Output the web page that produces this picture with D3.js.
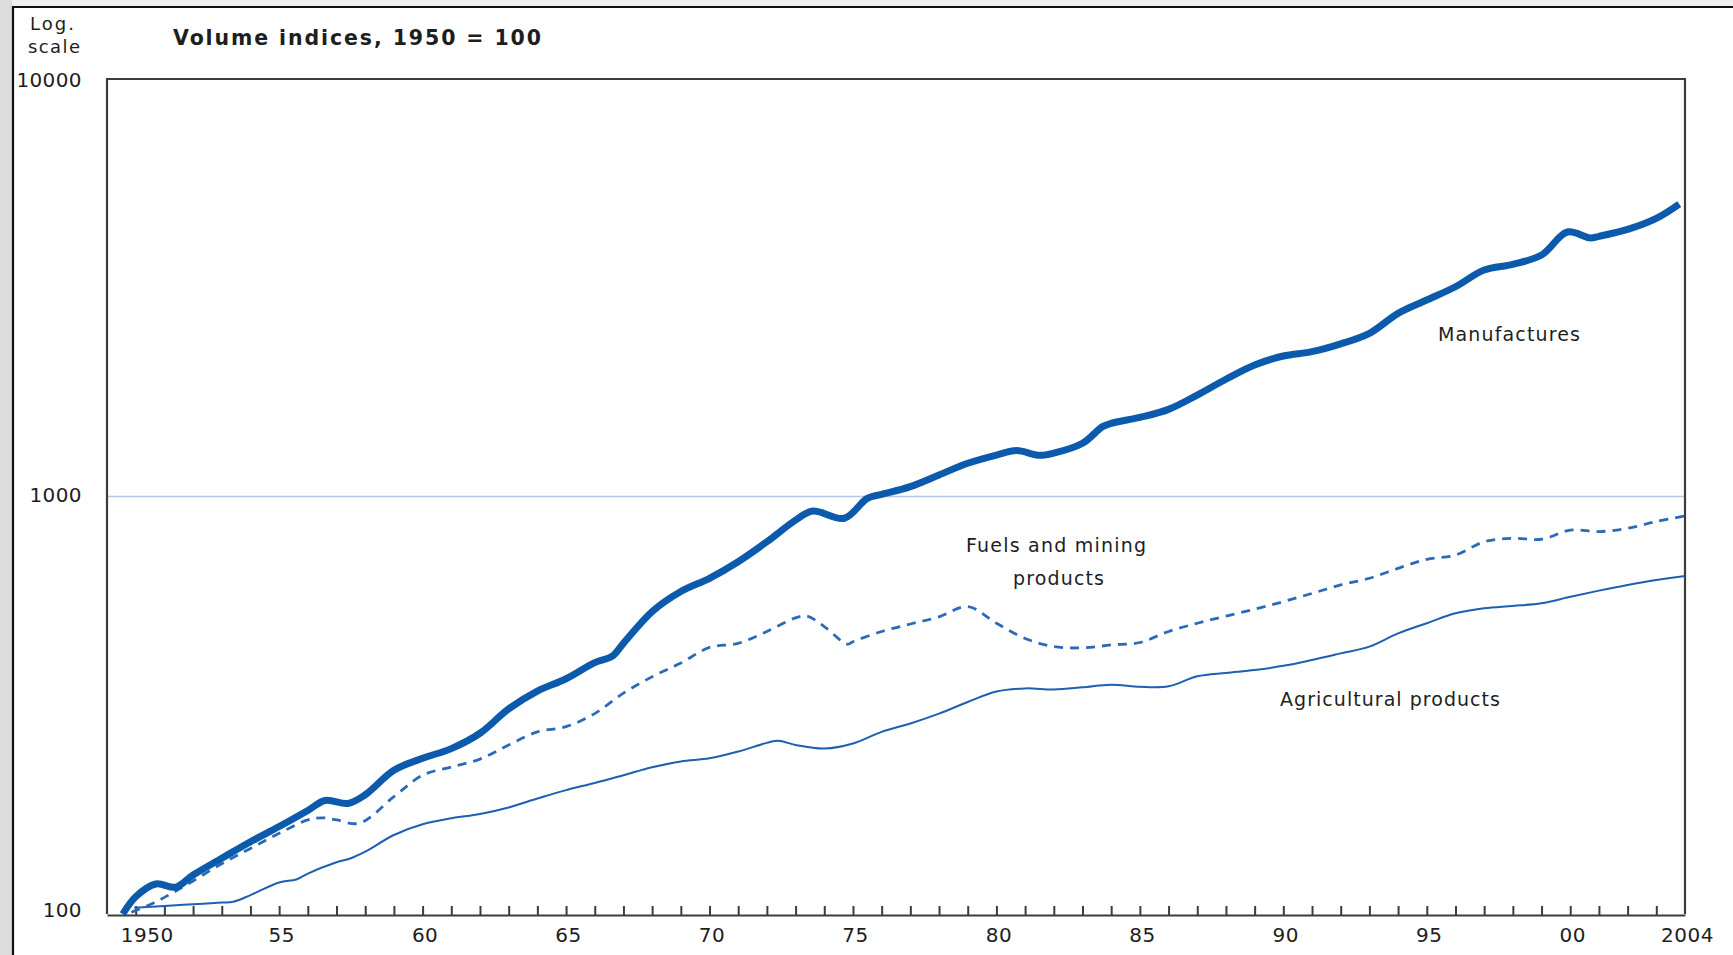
<!DOCTYPE html>
<html><head><meta charset="utf-8">
<script src="https://cdn.jsdelivr.net/npm/d3@7"></script>
<style>
html,body{margin:0;padding:0;background:#fff;}
svg{display:block;}
text{font-family:"DejaVu Sans",sans-serif;fill:#1e1e1e;}
</style></head><body>
<svg id="c" width="1733" height="955"></svg>
<script>
// ---- data ----
const tickYears = d3.range(1950, 2004);
const labelYears = [1950, 1955, 1960, 1965, 1970, 1975, 1980, 1985, 1990, 1995, 2000, 2004];
const labelTexts = ["1950", "55", "60", "65", "70", "75", "80", "85", "90", "95", "00", "2004"];
const yTicks = [100, 1000, 10000];
const yTickLabels = ["100", "1000", "10000"];

const manufYears = [1949.55,1950,1950.7,1951.4,1952,1953,1954,1955,1956,1956.6,1957.4,1958,1959,1960,1961,1962,1963,1964,1965,1966,1966.6,1967,1968,1969,1970,1971,1972,1973,1973.6,1974.7,1975.5,1976,1977,1978,1979,1980,1980.7,1981.5,1982,1983,1983.7,1984,1985,1986,1987,1988,1989,1990,1991,1992,1993,1994,1995,1996,1997,1998,1999,1999.9,2000.7,2001,2002,2003,2003.8];
const manufValues = [100,110,118,116,124,136,149,162,177,187,184,193,221,236,249,271,310,342,366,400,414,445,530,592,637,698,779,878,923,887,990,1012,1056,1126,1201,1257,1288,1255,1270,1341,1470,1497,1547,1617,1750,1909,2065,2170,2223,2320,2459,2746,2955,3180,3486,3598,3787,4300,4160,4200,4365,4638,5018];

const fuelsYears = [1949.85,1950.55,1951.25,1952,1953,1954,1955,1956,1956.5,1957,1957.8,1959,1960,1961,1962,1963,1964,1965,1966,1967,1968,1969,1970,1971,1972,1973,1973.4,1974,1974.8,1975,1976,1977,1978,1979,1980,1981,1982,1983,1984,1985,1986,1987,1988,1989,1990,1991,1992,1993,1994,1995,1996,1997,1998,1999,2000,2001,2002,2003,2004];
const fuelsValues = [101,105.7,112,120,132,143.6,156,168,170,168,165,191,215,225,235,254,273,281,302,338,370,399,435,445,475,512,517,488,443,449,475,495,515,545,497,457,437,434,441,447,475,497,517,537,560,586,614,637,673,707,724,779,794,790,831,824,839,871,898];

const agriYears = [1949.95,1951,1952,1953,1953.4,1954,1955,1955.6,1956,1957,1957.5,1958,1959,1960,1961,1962,1963,1964,1965,1966,1967,1968,1969,1970,1971,1972,1972.4,1973,1974,1975,1976,1977,1978,1979,1980,1981,1982,1983,1984,1985,1986,1987,1988,1989,1990,1991,1992,1993,1994,1995,1996,1997,1998,1999,2000,2001,2002,2003,2004];
const agriValues = [103.5,104.5,105.5,106.5,107,111,119,121,125,133,136,141,154.6,164,169.5,173.6,180,189,198,206,215,224.6,232,236,245,257,260,254,249,256,273,286,302,322,341,347,345,349,354,350,351,371,378,384,393,406,421,437,470,497,525,540,547,555,575,595,614,631,645];

// ---- layout ----
const svg = d3.select("#c");
const L = 107, R = 1685, T = 79, B = 914;
const x = d3.scaleLinear().domain([1949, 2004]).range([L, R]);
const y = d3.scaleLog().domain([100, 10000]).range([B, T]);

// page frame
svg.append("rect").attr("x",0).attr("y",0).attr("width",1733).attr("height",955).attr("fill","#fff");
svg.append("rect").attr("x",0).attr("y",0).attr("width",1733).attr("height",7).attr("fill","#efefef");
svg.append("rect").attr("x",0).attr("y",0).attr("width",12).attr("height",955).attr("fill","#dcdcdc");
svg.append("line").attr("x1",12).attr("x2",1733).attr("y1",7).attr("y2",7).attr("stroke","#111").attr("stroke-width",2.2);
svg.append("line").attr("x1",13).attr("x2",13).attr("y1",6).attr("y2",955).attr("stroke","#111").attr("stroke-width",2.2);

// gridline at 1000
svg.append("line").attr("x1",L).attr("x2",R).attr("y1",y(1000)).attr("y2",y(1000))
  .attr("stroke","#b5c5e8").attr("stroke-width",1.3);

// plot frame (top, left, right)
svg.append("path").attr("d",`M${L},${B}V${T}H${R}V${B}`)
  .attr("fill","none").attr("stroke","#3c3c3c").attr("stroke-width",2.2);

// x axis ticks (inward)
const gx = svg.append("g").attr("transform",`translate(0,${B+1})`)
  .call(d3.axisBottom(x).tickValues(tickYears).tickSizeInner(-9).tickSizeOuter(0).tickFormat(""));
gx.select(".domain").attr("stroke","#3c3c3c").attr("stroke-width",2.2);
gx.selectAll(".tick line").attr("stroke","#3c3c3c").attr("stroke-width",2);

// x labels
const gxl = svg.append("g").attr("transform",`translate(0,${B})`)
  .call(d3.axisBottom(x).tickValues(labelYears).tickSize(0).tickFormat((d,i)=>labelTexts[i]));
gxl.select(".domain").remove();
gxl.selectAll("text").attr("y",28).attr("dy",0)
  .attr("font-size",20).attr("font-family","DejaVu Sans, sans-serif").attr("fill","#1e1e1e")
  .attr("letter-spacing",0.5)
  .attr("dx",(d,i)=> i===0 ? 11 : 2);

// y labels
const gy = svg.append("g").attr("transform",`translate(${L},0)`)
  .call(d3.axisLeft(y).tickValues(yTicks).tickSize(0).tickPadding(25).tickFormat((d,i)=>yTickLabels[i]));
gy.select(".domain").remove();
gy.selectAll("text").attr("dy",0).attr("y",(d)=> d===10000 ? 7 : (d===1000 ? 5 : 2))
  .attr("font-size",20).attr("font-family","DejaVu Sans, sans-serif").attr("fill","#1e1e1e")
  .attr("letter-spacing",0.4);

// lines
svg.append("clipPath").attr("id","clip").append("rect")
  .attr("x",L).attr("y",T).attr("width",R-L).attr("height",B-T+1);
const line = d3.line().x(d=>x(d[0])).y(d=>y(d[1])).curve(d3.curveCatmullRom.alpha(0.5));
const g = svg.append("g").attr("clip-path","url(#clip)");
g.append("path").datum(agriYears.map((yr,i)=>[yr,agriValues[i]]))
  .attr("d",line).attr("fill","none").attr("stroke","#1d5fb0").attr("stroke-width",2);
g.append("path").datum(fuelsYears.map((yr,i)=>[yr,fuelsValues[i]]))
  .attr("d",line).attr("fill","none").attr("stroke","#2a6bb7").attr("stroke-width",2.8)
  .attr("stroke-dasharray","9,7");
g.append("path").datum(manufYears.map((yr,i)=>[yr,manufValues[i]]))
  .attr("d",line).attr("fill","none").attr("stroke","#0b5aab").attr("stroke-width",7)
  .attr("stroke-linejoin","round");

// texts
function txt(s, xx, yy, size, w, bold, anchor){
  const t = svg.append("text").attr("x",xx).attr("y",yy).attr("font-size",size)
    .attr("text-anchor",anchor||"start").text(s);
  if (bold) t.attr("font-weight","bold");
  if (w) t.attr("textLength",w).attr("lengthAdjust","spacing");
  return t;
}
txt("Log.", 30, 30, 18, 44);
txt("scale", 28, 53, 18, 52);
txt("Volume indices, 1950 = 100", 173, 45, 20.5, 368, true);
txt("Manufactures", 1438, 341, 19, 142);
txt("Fuels and mining", 966, 552, 19, 180);
txt("products", 1013, 585, 19, 91);
txt("Agricultural products", 1280, 706, 19, 220);
</script>
</body></html>
